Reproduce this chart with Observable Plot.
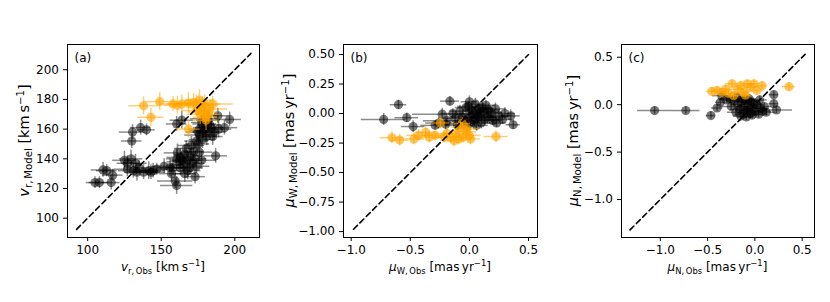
<!DOCTYPE html>
<html><head><meta charset="utf-8">
<script src="https://cdn.jsdelivr.net/npm/d3@7"></script>
<script src="https://cdn.jsdelivr.net/npm/@observablehq/plot@0.6"></script>
<style>
body{margin:0;background:#fff;}
#wrap{position:relative;width:830px;height:302px;background:#fff;}
#wrap svg{position:absolute;top:0;overflow:visible;}
#wrap svg text, #wrap svg tspan{font-family:'DejaVu Sans', sans-serif;}
</style></head><body><div id="wrap"></div>
<script>
// ---- data: [obs, model, obsErr, modelErr] ----
const vrBlack = [
[105,124,6,4],[108,124,7,4],[110.5,132.5,8,5],[113,132,7,4],[116,124,6,5],[117,129,7,4],[125,139,8,6],[127,133,9,5],
[129.5,140,8,6],[130,152,7,5],[130.5,158,9,5],[136,161,7,5],[140,159.5,6,4],[131,132,10,5],[133.5,131,8,6],[138,131,9,5],
[141.5,132,7,6],[144.5,132,8,5],[147,133,9,4],[127,137,7,5],[132.5,137,8,6],[135,134,7,5],[143,131,10,5],[156,134,9,6],
[158,134,10,5],[159.5,125,12,5],[160.5,122,11,6],[157,130,8,5],[160.6,140,7,6],[163,141,9,6],[164.5,139,8,5],[166,143,7,6],
[167,147,8,5],[168,139,10,6],[169.5,134,9,5],[171.5,137,8,5],[173,128,7,5],[170.5,149,9,6],[174,152,8,5],[176,156,10,6],
[178.5,159,9,5],[179.5,163.5,8,6],[177.5,164.5,7,5],[180.5,158,9,5],[182,166,8,6],[184,161,9,5],[185,155,7,6],[187,142,8,5],
[188.5,169,7,5],[193,161,9,5],[196.5,166.5,8,5],[160.5,163.5,7,5],[164,166,8,6],[176,144.5,9,5],[177.5,139,10,6],[162,138,8,5],
[165,136,9,6],[170,142,8,5],[172,145,7,6],[175,150,8,5],[178,153,9,6],[180,161,8,5],[181,155,7,6],[183,163,8,5],
[179,167,9,6],[176,160,7,5],[173,140,8,5],[168,132,9,6],[163,134,8,5],[161,144,9,6],[186,158,8,5],[189,160,9,6],
[175,158,8,5],[174,135,9,5],[152,135,8,5],[166,130,8,6]
];
const vrOrange = [
[138,175.7,10,6],[143,168,9,6],[149,178.5,10,6],[158,177,11,5],[164,177,10,6],[168.5,177.5,12,7],[174,177,11,6],[176,179.5,10,7],
[177.5,174.5,9,6],[179,171.5,10,7],[180,168,8,6],[183,173.5,12,6],[185,177,14,5],[168.5,160,8,6],[175,172.5,10,6],[180.5,166,9,7],
[178,176,11,6],[172,178,10,6],[161,176,9,6],[182,170,8,6],[176.5,170,9,7],[179.5,177,11,6]
];
const muWBlack = [
[-0.6,0.075,0.07,0.04],[-0.725,-0.05,0.19,0.05],[-0.53,-0.035,0.1,0.04],[-0.476,-0.11,0.1,0.05],[-0.165,0.105,0.08,0.04],
[-0.23,-0.005,0.25,0.05],[-0.29,-0.1,0.12,0.04],[-0.19,-0.06,0.2,0.05],[0.37,-0.095,0.06,0.04],[0.35,-0.02,0.08,0.05],
[-0.12,-0.04,0.1,0.05],[-0.08,0.02,0.08,0.05],[-0.05,-0.08,0.1,0.04],[-0.03,0.05,0.09,0.05],[0.0,0.1,0.07,0.05],
[0.0,-0.02,0.1,0.05],[0.02,0.03,0.08,0.04],[0.04,-0.06,0.1,0.05],[0.05,0.08,0.07,0.05],[0.07,-0.01,0.09,0.04],
[0.08,0.04,0.1,0.05],[0.1,-0.08,0.08,0.05],[0.12,0.02,0.1,0.05],[0.14,0.07,0.08,0.04],[0.15,-0.03,0.09,0.05],
[0.18,0.01,0.1,0.05],[0.2,-0.06,0.08,0.04],[0.22,0.04,0.09,0.05],[0.25,-0.02,0.1,0.05],[0.28,-0.05,0.08,0.04],
[0.3,0.0,0.09,0.05],[-0.1,-0.1,0.08,0.05],[-0.02,-0.11,0.09,0.04],[0.06,-0.1,0.1,0.05],[-0.06,-0.03,0.1,0.05],
[0.03,0.0,0.08,0.05],[0.09,0.01,0.09,0.05],[-0.14,0.0,0.1,0.04],[0.11,0.05,0.08,0.05],[0.16,0.03,0.1,0.05],
[-0.01,0.06,0.09,0.04],[0.05,-0.04,0.1,0.05],[0.13,-0.05,0.08,0.05],[-0.04,-0.06,0.09,0.05],[0.01,-0.07,0.08,0.04],
[0.08,-0.03,0.1,0.05],[0.19,-0.03,0.09,0.05],[0.23,-0.08,0.08,0.04],[-0.2,-0.09,0.1,0.05],[-0.26,-0.08,0.11,0.05]
];
const muWOrange = [
[-0.655,-0.205,0.1,0.05],[-0.59,-0.225,0.08,0.05],[-0.47,-0.215,0.09,0.05],[-0.43,-0.185,0.1,0.05],[-0.37,-0.16,0.08,0.05],
[-0.34,-0.2,0.1,0.05],[-0.29,-0.185,0.09,0.05],[-0.245,-0.08,0.08,0.05],[-0.215,-0.2,0.09,0.05],[-0.16,-0.2,0.1,0.05],
[-0.115,-0.17,0.09,0.05],[-0.075,-0.115,0.08,0.05],[-0.06,-0.085,0.07,0.05],[-0.03,-0.155,0.09,0.05],[0.0,-0.185,0.1,0.05],
[0.01,-0.215,0.08,0.05],[-0.09,-0.215,0.09,0.05],[0.225,-0.195,0.1,0.05],[-0.13,-0.23,0.08,0.05],[-0.19,-0.17,0.1,0.05],
[-0.05,-0.2,0.09,0.05],[-0.02,-0.13,0.1,0.05]
];
const muNBlack = [
[-1.06,-0.062,0.18,0.04],[-0.73,-0.062,0.15,0.04],[-0.465,-0.115,0.05,0.04],[-0.4,-0.035,0.06,0.04],[-0.365,0.025,0.05,0.04],
[-0.35,0.095,0.1,0.04],[0.2,0.01,0.05,0.04],[0.228,-0.055,0.17,0.04],[0.2,0.105,0.05,0.04],
[-0.3,0.05,0.08,0.04],[-0.25,-0.02,0.1,0.04],[-0.22,0.04,0.08,0.04],[-0.2,-0.08,0.09,0.04],[-0.18,0.0,0.08,0.04],
[-0.16,-0.05,0.1,0.04],[-0.14,0.03,0.08,0.04],[-0.12,-0.1,0.09,0.04],[-0.11,-0.02,0.08,0.04],[-0.1,0.05,0.1,0.04],
[-0.08,-0.06,0.08,0.04],[-0.07,0.0,0.09,0.04],[-0.05,-0.09,0.08,0.04],[-0.04,0.03,0.1,0.04],[-0.02,-0.04,0.08,0.04],
[0.0,-0.07,0.09,0.04],[0.02,0.0,0.08,0.04],[0.04,-0.1,0.1,0.04],[0.06,-0.04,0.08,0.04],[0.08,-0.07,0.09,0.04],
[0.1,-0.02,0.08,0.04],[0.12,-0.08,0.1,0.04],[-0.15,-0.12,0.08,0.04],[-0.09,-0.13,0.09,0.04],[-0.03,-0.11,0.08,0.04],
[-0.13,0.06,0.1,0.04],[-0.06,0.06,0.08,0.04],[-0.19,0.08,0.09,0.04],[0.05,0.05,0.08,0.04],[-0.26,0.06,0.1,0.04],
[-0.01,0.01,0.08,0.04],[-0.11,-0.06,0.09,0.04]
];
const muNOrange = [
[0.36,0.19,0.07,0.04],[0.075,0.2,0.06,0.04],[-0.01,0.22,0.06,0.04],[-0.08,0.22,0.07,0.04],[-0.15,0.2,0.06,0.04],
[-0.24,0.22,0.07,0.04],[-0.31,0.165,0.06,0.04],[-0.4,0.15,0.07,0.04],[-0.455,0.14,0.06,0.04],[-0.225,0.095,0.05,0.04],
[-0.12,0.13,0.07,0.04],[-0.05,0.18,0.06,0.04],[-0.18,0.16,0.07,0.04],[-0.28,0.12,0.06,0.04],[-0.1,0.1,0.06,0.04],
[0.02,0.15,0.07,0.04],[-0.35,0.13,0.06,0.04]
];
const diagA = [92.5, 211];
const diagB = [-0.98, 0.5];
const diagC = [-1.32, 0.53];
const ticksA = [100, 150, 200];
const yTicksA = [100, 120, 140, 160, 180, 200];
const ticksB = [-1.0, -0.5, 0.0, 0.5];
const yTicksB = [-1.0, -0.75, -0.5, -0.25, 0.0, 0.25, 0.5];
const ticksC = [-1.0, -0.5, 0.0, 0.5];
const yTicksC = [-1.0, -0.5, 0.0, 0.5];

const FONT = "'DejaVu Sans', sans-serif";
const FS = 12;
const FSY = 14.5;

function rich(textSel, parts, fs) {
  let shift = 0;
  for (const p of parts) {
    const target = p.sub ? fs * 0.22 : p.sup ? -fs * 0.38 : 0;
    const ts = textSel.append("tspan").text(p.t)
      .attr("dy", target - shift)
      .style("font-size", ((p.sub || p.sup) ? fs * 0.7 : fs) + "px");
    if (p.it) ts.style("font-style", "italic");
    shift = target;
  }
}

function panel(o) {
  const errMarks = (data, color, op) => [
    Plot.ruleY(data, {y: d => d[1], x1: d => d[0] - d[2], x2: d => d[0] + d[2], stroke: color, strokeOpacity: op, strokeWidth: 1.5}),
    Plot.ruleX(data, {x: d => d[0], y1: d => d[1] - d[3], y2: d => d[1] + d[3], stroke: color, strokeOpacity: op, strokeWidth: 1.5}),
    Plot.dot(data, {x: d => d[0], y: d => d[1], r: 4.6, fill: color, fillOpacity: op + 0.08, stroke: "none"})
  ];
  const svg = Plot.plot({
    width: o.width, height: 302,
    marginTop: 44, marginBottom: 65, marginLeft: o.ml, marginRight: o.mr,
    style: `font-family: ${FONT}; font-size: ${FS}px; color: black; background: white;`,
    x: {domain: o.xDomain},
    y: {domain: o.yDomain},
    marks: [
      ...errMarks(o.black, "black", 0.45),
      ...errMarks(o.orange, "#FFA500", 0.55),
      Plot.line(o.diag.map(v => [v, v]), {x: d => d[0], y: d => d[1], stroke: "black", strokeWidth: 1.6, strokeDasharray: "5.5,3.5"}),
      Plot.frame({stroke: "black", strokeWidth: 1}),
      Plot.axisX({ticks: o.xTicks, tickFormat: o.xFmt, tickSize: 4, tickPadding: 4, label: null, fontSize: FS}),
      Plot.axisY({ticks: o.yTicks, tickFormat: o.yFmt, tickSize: 4, tickPadding: 4.5, label: null, fontSize: FS}),
      Plot.text([o.tag], {frameAnchor: "top-left", dx: 7, dy: 17, fontSize: FS, textAnchor: "start", lineAnchor: "bottom"})
    ]
  });
  svg.style.left = o.left + "px";
  const s = d3.select(svg);
  const cx = o.ml + (o.width - o.ml - o.mr) / 2;
  const xl = s.append("text").attr("x", cx).attr("y", 271).attr("text-anchor", "middle")
    .style("font-family", FONT).attr("fill", "black");
  rich(xl, o.xlab, FS);
  const cy = 44 + (302 - 44 - 65) / 2;
  const yl = s.append("text").attr("transform", `translate(${o.ylx},${cy}) rotate(-90)`)
    .attr("text-anchor", "middle").style("font-family", FONT).attr("fill", "black");
  rich(yl, o.ylab, FSY);
  document.getElementById("wrap").appendChild(svg);
}

const unitKm = [{t: " [km\u2009s"}, {t: "\u22121", sup: true}, {t: "]"}];
const unitMas = [{t: " [mas\u2009yr"}, {t: "\u22121", sup: true}, {t: "]"}];

panel({left: 0, width: 277, ml: 67, mr: 18, xDomain: [86.3, 216.8], yDomain: [87, 217],
  xTicks: ticksA, yTicks: yTicksA, xFmt: d3.format("d"), yFmt: d3.format("d"),
  black: vrBlack, orange: vrOrange, diag: diagA, tag: "(a)", ylx: 29,
  xlab: [{t: "v", it: true}, {t: "r,\u2009Obs", sub: true}, ...unitKm],
  ylab: [{t: "v", it: true}, {t: "r,\u2009Model", sub: true}, ...unitKm]});

panel({left: 277, width: 276, ml: 66, mr: 16, xDomain: [-1.065, 0.576], yDomain: [-1.05, 0.585],
  xTicks: ticksB, yTicks: yTicksB, xFmt: d3.format(".1f"), yFmt: d3.format(".2f"),
  black: muWBlack, orange: muWOrange, diag: diagB, tag: "(b)", ylx: 17,
  xlab: [{t: "\u03bc", it: true}, {t: "W,\u2009Obs", sub: true}, ...unitMas],
  ylab: [{t: "\u03bc", it: true}, {t: "W,\u2009Model", sub: true}, ...unitMas]});

panel({left: 553, width: 277, ml: 68, mr: 16, xDomain: [-1.41, 0.63], yDomain: [-1.40, 0.634],
  xTicks: ticksC, yTicks: yTicksC, xFmt: d3.format(".1f"), yFmt: d3.format(".1f"),
  black: muNBlack, orange: muNOrange, diag: diagC, tag: "(c)", ylx: 25,
  xlab: [{t: "\u03bc", it: true}, {t: "N,\u2009Obs", sub: true}, ...unitMas],
  ylab: [{t: "\u03bc", it: true}, {t: "N,\u2009Model", sub: true}, ...unitMas]});
</script></body></html>
